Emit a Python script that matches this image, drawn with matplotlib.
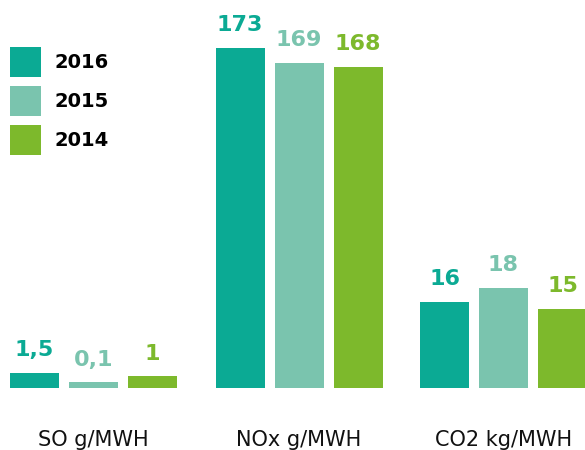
import matplotlib
matplotlib.use("Agg")
import matplotlib.pyplot as plt
from matplotlib.patches import Patch

groups = ["SO g/MWH", "NOx g/MWH", "CO2 kg/MWH"]
years = ["2016", "2015", "2014"]
so_values = [1.5, 0.1, 1.0]
nox_values = [173, 169, 168]
co2_values = [16, 18, 15]
value_labels = [["1,5", "0,1", "1"], ["173", "169", "168"], ["16", "18", "15"]]
colors = ["#0BAA94", "#7AC4AE", "#7DB92C"]

# each group has its own unit and its own (non-zero based) y scale
group_values = [so_values, nox_values, co2_values]
group_ylim = [(-0.72, 52.2), (83.5, 180.3), (3.92, 55.5)]

W, H = 585, 450
fig = plt.figure(figsize=(W / 100, H / 100), dpi=100)

base = 388
top = 20
centers = [93.5, 299, 503.5]
half = 100

for gi, (vals, (y0, y1)) in enumerate(zip(group_values, group_ylim)):
    ax = fig.add_axes([(centers[gi] - half) / W, (H - base) / H,
                       2 * half / W, (base - top) / H])
    xs = [-59, 0, 59]
    ax.bar(xs, [v - y0 for v in vals], bottom=y0, width=49, color=colors)
    for x, v, lab, c in zip(xs, vals, value_labels[gi], colors):
        ax.annotate(lab, (x, v), xytext=(0, 9), textcoords="offset points",
                    ha="center", va="bottom", fontsize=16, fontweight="bold",
                    color=c)
    ax.set_xlim(-half, half)
    ax.set_ylim(y0, y1)
    ax.axis("off")
    fig.text(centers[gi] / W, 1 - 440 / H, groups[gi], ha="center",
             va="center", fontsize=15, color="#111111")

handles = [Patch(facecolor=c, edgecolor="none") for c in colors]
fig.legend(handles, years, loc="upper left", bbox_to_anchor=(10 / W, 1 - 47 / H),
           frameon=False, borderpad=0, borderaxespad=0,
           prop={"weight": "bold", "size": 14},
           handlelength=1.6, handleheight=2.0, handletextpad=0.7,
           labelspacing=0.45)

fig.savefig("out.png", dpi=100)
